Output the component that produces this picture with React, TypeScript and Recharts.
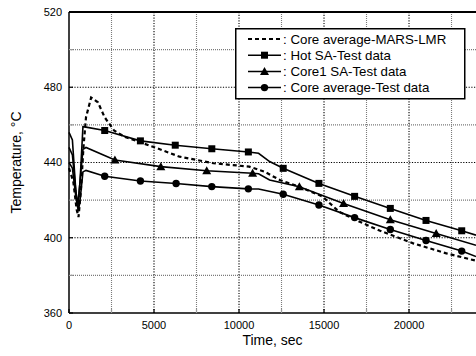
import { ComposedChart, Line, Scatter, XAxis, YAxis, Legend } from 'recharts'

const marsT = [0, 250, 450, 560, 700, 850, 1000, 1300, 1700, 2100, 2650, 3300, 4000, 5200, 6500, 8500, 10600, 11500, 12400, 13500, 14900, 15900, 17100, 18300, 20250, 22200, 23940]
const marsV = [437, 430, 415, 411, 425, 448, 464, 474.5, 472, 464, 457, 453.5, 451.4, 447.5, 443.1, 439.6, 437.8, 435.1, 430.7, 427.3, 422, 413.7, 408.5, 403.7, 397, 391.7, 387.8]

const hotT = [0, 200, 400, 520, 650, 820, 1000, 2100, 4200, 6250, 8400, 10550, 11150, 11800, 12600, 14700, 16800, 18900, 21000, 23100, 23940]
const hotV = [456, 452, 425, 416, 430, 459, 458.8, 457, 451.5, 449.2, 447.3, 445.6, 444.9, 440.5, 436.9, 428.9, 422, 415.6, 409.2, 403.7, 401.4]
const hotMarks = [2100, 4200, 6250, 8400, 10550, 12600, 14700, 16800, 18900, 21000, 23100]

const core1T = [0, 200, 400, 520, 650, 820, 1000, 2700, 5400, 8100, 10800, 11150, 11800, 13550, 16150, 18900, 21600, 23940]
const core1V = [448, 444, 425, 417, 430, 447, 448, 441.3, 437.8, 435.6, 434.3, 434, 430.7, 427.1, 418.2, 409.6, 402.3, 396]
const core1Marks = [2700, 5400, 8100, 10800, 13550, 16150, 18900, 21600]

const avgT = [0, 200, 400, 550, 650, 820, 1000, 2100, 4200, 6300, 8400, 10550, 11150, 12600, 14700, 16800, 18900, 21000, 23100, 23940]
const avgV = [440, 437, 422, 414, 420, 435, 435.8, 432.7, 430.2, 428.8, 427.2, 426, 425.9, 423.1, 417.4, 410.7, 404.4, 398.5, 392.9, 390]
const avgMarks = [2100, 4200, 6300, 8400, 10550, 12600, 14700, 16800, 18900, 21000, 23100]

const xMin = 0
const xMax = 23940
const yMin = 360
const yMax = 520
const xTicks = [0, 2500, 5000, 7500, 10000, 12500, 15000, 17500, 20000, 22500]
const yTicks = [360, 380, 400, 420, 440, 460, 480, 500, 520]
const xGrid = [2500, 5000, 7500, 10000, 12500, 15000, 17500, 20000, 22500]
const yGrid = [380, 400, 420, 440, 460, 480, 500]

const legendItems = [
  { label: ': Core average-MARS-LMR', mark: 'none' },
  { label: ': Hot SA-Test data', mark: 'square' },
  { label: ': Core1 SA-Test data', mark: 'triangle' },
  { label: ': Core average-Test data', mark: 'circle' },
]

const font = 'Liberation Sans, Arial, sans-serif'

const pairs = (ts: number[], vs: number[]) => ts.map((t, i) => ({ t, v: vs[i] }))
const marks = (ts: number[], vs: number[], m: number[]) => pairs(ts, vs).filter((p) => m.includes(p.t))

const marsData = pairs(marsT, marsV)
const hotData = pairs(hotT, hotV)
const core1Data = pairs(core1T, core1V)
const avgData = pairs(avgT, avgV)

const isMajorX = (t: number) => t % 5000 === 0
const isMajorY = (v: number) => v % 40 === 0

function Marker({ kind, cx, cy }: { kind: string; cx: number; cy: number }) {
  if (kind === 'square') return <rect x={cx - 3.5} y={cy - 3.5} width={7} height={7} fill="#000" />
  if (kind === 'triangle') return <polygon points={`${cx},${cy - 4.5} ${cx + 4.5},${cy + 3.5} ${cx - 4.5},${cy + 3.5}`} fill="#000" />
  if (kind === 'circle') return <circle cx={cx} cy={cy} r={3.7} fill="#000" />
  return null
}

function XTick(props: any) {
  const { x, y, payload } = props
  const major = isMajorX(payload.value)
  const base = y - 8
  return (
    <g>
      <line x1={x} x2={x} y1={base} y2={base - 4} stroke={major ? '#000' : '#999'} strokeWidth={1.2} />
      {major && (
        <text x={x} y={y} dy="0.71em" textAnchor="middle" fontFamily={font} fontSize={11} fill="#000">
          {payload.value}
        </text>
      )}
    </g>
  )
}

function YTick(props: any) {
  const { x, y, payload } = props
  const major = isMajorY(payload.value)
  const base = x + 7
  return (
    <g>
      <line x1={base} x2={base + 4} y1={y} y2={y} stroke={major ? '#000' : '#999'} strokeWidth={1.2} />
      {major && (
        <text x={x} y={y} dy="0.35em" textAnchor="end" fontFamily={font} fontSize={11} fill="#000">
          {payload.value}
        </text>
      )}
    </g>
  )
}

function LegendBox() {
  return (
    <svg width={231} height={72} style={{ display: 'block' }}>
      <rect x={0.75} y={0.75} width={229} height={70} fill="#fff" stroke="#000" strokeWidth={1.5} />
      {legendItems.map((it, i) => {
        const cy = 11 + i * 16.2
        return (
          <g key={it.label}>
            <line
              x1={13}
              x2={46}
              y1={cy}
              y2={cy}
              stroke="#000"
              strokeWidth={it.mark === 'none' ? 2 : 1.5}
              strokeDasharray={it.mark === 'none' ? '4 3' : undefined}
            />
            <Marker kind={it.mark} cx={29.5} cy={cy} />
            <text x={48} y={cy} dy="0.36em" fontFamily={font} fontSize={13.3} fill="#000">
              {it.label}
            </text>
          </g>
        )
      })}
    </svg>
  )
}

export default function App() {
  return (
    <div style={{ width: 476, height: 356, background: '#fff' }}>
      <style>{'body{margin:0}'}</style>
      <ComposedChart width={476} height={356} margin={{ top: 12, right: 0, left: 0, bottom: 0 }}>
        <XAxis
          type="number"
          dataKey="t"
          domain={[xMin, xMax]}
          ticks={xTicks}
          interval={0}
          height={43}
          tickSize={0}
          tickMargin={8}
          tickLine={false}
          tick={<XTick />}
          stroke="#000"
          strokeWidth={1.5}
          label={{ value: 'Time, sec', position: 'insideBottom', offset: 11, fontFamily: font, fontSize: 14, fill: '#000' }}
        />
        <YAxis
          type="number"
          domain={[yMin, yMax]}
          ticks={yTicks}
          interval={0}
          width={69}
          tickSize={0}
          tickMargin={7}
          tickLine={false}
          tick={<YTick />}
          stroke="#000"
          strokeWidth={1.5}
          label={{
            content: (p: any) => {
              const vb = p.viewBox
              const cx = vb.x + 16
              const cy = vb.y + vb.height / 2
              return (
                <text x={cx} y={cy} transform={`rotate(-90 ${cx} ${cy})`} textAnchor="middle" dy="0.35em" fontFamily={font} fontSize={14} fill="#000">
                  Temperature, °C
                </text>
              )
            },
          }}
        />
        {/* dotted grid: black on major ticks, grey on minor ones */}
        {xGrid.map((g) => (
          <Line
            key={'gx' + g}
            data={[{ t: g, v: yMin }, { t: g, v: yMax }]}
            dataKey="v"
            type="linear"
            stroke={isMajorX(g) ? '#000' : '#7a7a7a'}
            strokeWidth={1.1}
            strokeDasharray={isMajorX(g) ? '1.2 1.5' : '1 1'}
            dot={false}
            activeDot={false}
            legendType="none"
            isAnimationActive={false}
          />
        ))}
        {yGrid.map((g) => (
          <Line
            key={'gy' + g}
            data={[{ t: xMin, v: g }, { t: xMax, v: g }]}
            dataKey="v"
            type="linear"
            stroke={isMajorY(g) ? '#000' : '#7a7a7a'}
            strokeWidth={1.1}
            strokeDasharray={isMajorY(g) ? '1.2 1.5' : '1 1'}
            dot={false}
            activeDot={false}
            legendType="none"
            isAnimationActive={false}
          />
        ))}
        <Line
          data={[{ t: xMin, v: yMax }, { t: xMax, v: yMax }]}
          dataKey="v"
          type="linear"
          stroke="#000"
          strokeWidth={1.8}
          dot={false}
          activeDot={false}
          legendType="none"
          isAnimationActive={false}
        />
        <Line data={marsData} dataKey="v" type="linear" stroke="#000" strokeWidth={2.2} strokeDasharray="4 3" dot={false} isAnimationActive={false} />
        <Line data={hotData} dataKey="v" type="linear" stroke="#000" strokeWidth={1.6} dot={false} isAnimationActive={false} />
        <Line data={core1Data} dataKey="v" type="linear" stroke="#000" strokeWidth={1.6} dot={false} isAnimationActive={false} />
        <Line data={avgData} dataKey="v" type="linear" stroke="#000" strokeWidth={1.6} dot={false} isAnimationActive={false} />
        <Scatter data={marks(hotT, hotV, hotMarks)} dataKey="v" isAnimationActive={false} shape={(p: any) => <Marker kind="square" cx={p.cx} cy={p.cy} />} />
        <Scatter data={marks(core1T, core1V, core1Marks)} dataKey="v" isAnimationActive={false} shape={(p: any) => <Marker kind="triangle" cx={p.cx} cy={p.cy} />} />
        <Scatter data={marks(avgT, avgV, avgMarks)} dataKey="v" isAnimationActive={false} shape={(p: any) => <Marker kind="circle" cx={p.cx} cy={p.cy} />} />
        <Legend
          layout="vertical"
          align="center"
          verticalAlign="middle"
          content={() => <LegendBox />}
          wrapperStyle={{ left: 235, top: 28, width: 231, height: 72 }}
        />
      </ComposedChart>
    </div>
  )
}
